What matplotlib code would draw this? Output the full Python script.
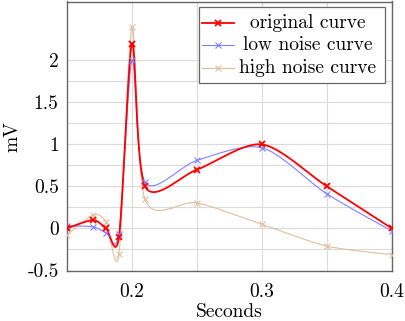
import numpy as np
import matplotlib
matplotlib.use('Agg')
import matplotlib.pyplot as plt
from matplotlib.patches import Rectangle
from matplotlib.lines import Line2D

plt.rcParams['font.family'] = 'cmr10'
plt.rcParams['mathtext.fontset'] = 'cm'
plt.rcParams['axes.formatter.use_mathtext'] = True

# data
seconds = [0.15, 0.17, 0.18, 0.19, 0.20, 0.21, 0.25, 0.30, 0.35, 0.40]
original = [0.0, 0.1, 0.0, -0.1, 2.2, 0.5, 0.7, 1.0, 0.5, 0.0]
low_noise = [0.03, 0.02, -0.05, -0.06, 2.0, 0.55, 0.81, 0.96, 0.41, -0.03]
high_noise = [-0.08, 0.16, 0.08, -0.3, 2.4, 0.345, 0.305, 0.05, -0.21, -0.31]

labels = ['original curve', 'low noise curve', 'high noise curve']
colors = ['#ff0000', '#8080ff', '#dfbf9f']
widths = [1.3, 0.8, 0.8]

xticks = [0.2, 0.3, 0.4]
yticks = [-0.5, 0, 0.5, 1, 1.5, 2]
ytick_labels = ['-0.5', '0', '0.5', '1', '1.5', '2']


def smooth(x, y, k=0.14, n=40):
    # bezier through the points, like pgfplots "smooth"
    p = np.column_stack([x, y]).astype(float)
    out = []
    for i in range(len(p) - 1):
        a, b = p[i], p[i + 1]
        c1 = a + k * (p[i + 1] - p[i - 1]) if i > 0 else a
        c2 = b - k * (p[i + 2] - p[i]) if i + 2 < len(p) else b
        t = np.linspace(0, 1, n)[:, None]
        seg = (1 - t) ** 3 * a + 3 * (1 - t) ** 2 * t * c1 + 3 * (1 - t) * t ** 2 * c2 + t ** 3 * b
        out.append(seg)
    out = np.vstack(out)
    return out[:, 0], out[:, 1]


fig = plt.figure(figsize=(4.05, 3.21), dpi=100)
ax = fig.add_axes([67 / 405, (321 - 270.5) / 321, 325 / 405, 269 / 321])

series = [original, low_noise, high_noise]
for ys, c, lw in zip(series[::-1], colors[::-1], widths[::-1]):
    sx, sy = smooth(seconds, ys)
    ax.plot(sx, sy, color=c, lw=lw, zorder=3)
    ax.plot(seconds, ys, ls='none', marker='x', ms=4.5, mew=lw, color=c, zorder=4)

ax.set_xlim(0.15, 0.4)
ax.set_ylim(-0.5, 2.7)
ax.set_xticks(xticks)
ax.set_xticklabels([str(v) for v in xticks])
ax.set_xticks([0.25, 0.35], minor=True)
ax.set_yticks(yticks)
ax.set_yticklabels(ytick_labels)
ax.set_yticks([-0.25, 0.25, 0.75, 1.25, 1.75], minor=True)
ax.grid(True, which='both', color='#dadada', lw=0.8)
ax.set_axisbelow(True)
ax.tick_params(which='both', length=0, labelsize=14)
ax.tick_params(axis='x', pad=9)
ax.tick_params(axis='y', pad=6)
for s in ax.spines.values():
    s.set_color('#666666')
    s.set_linewidth(1.0)

ax.set_xlabel('Seconds', fontsize=14, va='center')
ax.xaxis.set_label_coords(0.5, (270.5 - 312.5) / 269)
ax.set_ylabel('mV', fontsize=14, va='center')
ax.yaxis.set_label_coords((12 - 67) / 325, 0.497)

# legend box, centered entries as in pgfplots
ax.add_patch(Rectangle((0.406, 0.697), 0.572, 0.283, transform=ax.transAxes,
                       facecolor='white', edgecolor='#666666', lw=0.9, zorder=5))
rows = [0.921, 0.838, 0.752]
for lab, c, lw, yy in zip(labels, colors, widths, rows):
    ax.add_line(Line2D([0.415, 0.514], [yy, yy], transform=ax.transAxes,
                       color=c, lw=lw, zorder=6))
    ax.add_line(Line2D([0.465], [yy], transform=ax.transAxes, marker='x', ms=4.5,
                       mew=lw, color=c, zorder=6))
    ax.text(0.740, yy, lab, transform=ax.transAxes, ha='center', va='center',
            fontsize=14, zorder=7)

fig.savefig('out.png', dpi=100)
